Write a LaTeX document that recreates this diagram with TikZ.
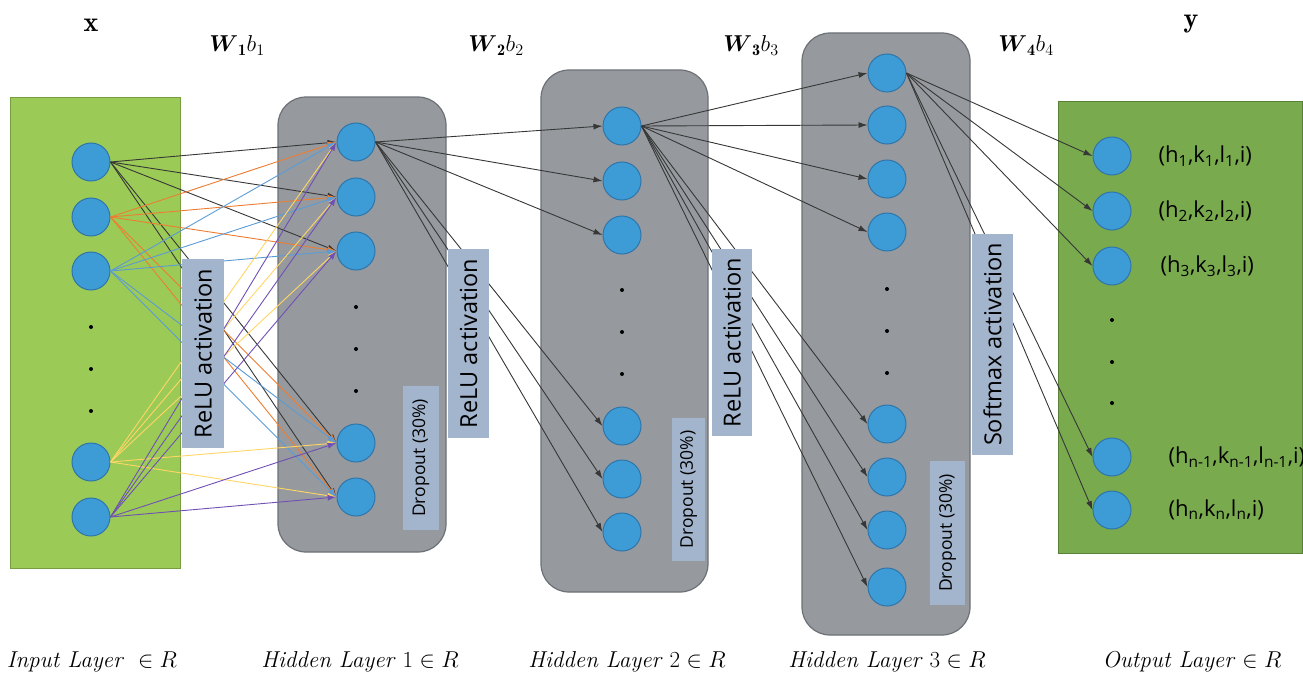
\RequirePackage{fix-cm}
\documentclass[tikz,border=0pt]{standalone}
\usepackage{amsmath}
\usepackage{fontspec}
\setsansfont{Open Sans}
\usetikzlibrary{arrows.meta,positioning}

\definecolor{nodeblue}{RGB}{61,155,214}
\definecolor{nodeline}{RGB}{47,117,170}
\definecolor{boxgray}{RGB}{150,154,158}
\definecolor{boxline}{RGB}{108,113,118}
\definecolor{ingreen}{RGB}{155,203,86}
\definecolor{inline}{RGB}{118,158,62}
\definecolor{outgreen}{RGB}{121,170,78}
\definecolor{outline}{RGB}{88,128,55}
\definecolor{actblue}{RGB}{163,181,205}
\definecolor{edgeblack}{RGB}{55,55,55}
\definecolor{edgeorange}{RGB}{237,125,49}
\definecolor{edgeblue}{RGB}{91,155,213}
\definecolor{edgeyellow}{RGB}{255,214,102}
\definecolor{edgepurple}{RGB}{112,80,180}

\begin{document}
\begin{tikzpicture}[x=1pt, y=-1pt, >={Latex[length=9pt,width=6pt]},
        neuron/.style={circle, draw=nodeline, fill=nodeblue, line width=1pt, minimum size=38pt, inner sep=0pt},
        dotnode/.style={circle, fill=black, minimum size=4pt, inner sep=0pt},
        layerbox/.style={draw=boxline, fill=boxgray, line width=1.2pt, rounded corners=28pt},
        actbox/.style={fill=actblue, rotate=90, inner sep=0pt, font=\sffamily\fontsize{23.5}{27}\selectfont},
        dropbox/.style={fill=actblue, rotate=90, inner sep=0pt, font=\sffamily\fontsize{17.5}{21}\selectfont},
        outlabel/.style={inner sep=0pt, anchor=west, font=\sffamily\fontsize{22}{26}\selectfont},
        layername/.style={font=\fontsize{23}{28}\selectfont},
        weight/.style={anchor=base, font=\fontsize{23}{28}\selectfont},
        link/.style={line width=0.9pt}]
        \useasboundingbox (0,0) rectangle (1303,677);

        \node[draw=inline, fill=ingreen, line width=1pt, minimum width=170, minimum height=471] (inbox) at (95,332.5) {};
        \node[layerbox, minimum width=168, minimum height=455] (hid1) at (362,324.5) {};
        \node[layerbox, minimum width=167, minimum height=522] (hid2) at (624.5,331) {};
        \node[layerbox, minimum width=168, minimum height=602] (hid3) at (886,334) {};
        \node[draw=outline, fill=outgreen, line width=1pt, minimum width=244, minimum height=452] (outbox) at (1180,327) {};

        \foreach \n/\y in {1/162,2/217,3/271,4/462,5/517}
            \node[neuron] (i\n) at (91,\y) {};
        \foreach \n/\y in {1/142,2/197,3/251,4/443,5/497}
            \node[neuron] (a\n) at (356,\y) {};
        \foreach \n/\y in {1/126,2/181,3/235,4/426,5/479,6/532}
            \node[neuron] (b\n) at (622,\y) {};
        \foreach \n/\y in {1/73,2/125,3/179,4/232,5/424,6/477,7/530,8/587}
            \node[neuron] (c\n) at (887,\y) {};
        \foreach \n/\y in {1/156,2/211,3/266,4/457,5/510}
            \node[neuron] (o\n) at (1112,\y) {};

        \foreach \n/\y in {1/327,2/369,3/411}
            \node[dotnode] (idot\n) at (91,\y) {};
        \foreach \n/\y in {1/307,2/349,3/391}
            \node[dotnode] (adot\n) at (356,\y) {};
        \foreach \n/\y in {1/290,2/332,3/374}
            \node[dotnode] (bdot\n) at (622,\y) {};
        \foreach \n/\y in {1/289,2/331,3/373}
            \node[dotnode] (cdot\n) at (887,\y) {};
        \foreach \n/\y in {1/320,2/362,3/403}
            \node[dotnode] (odot\n) at (1112,\y) {};

        \foreach \s/\c in {1/edgeblack,2/edgeorange,3/edgeblue,4/edgeyellow,5/edgepurple}
            \foreach \t in {1,...,5}
                \draw[->, link, \c] (i\s.east) -- (a\t.west);
        \foreach \t in {1,...,6}
            \draw[->, link, edgeblack] (a1.east) -- (b\t.west);
        \foreach \t in {1,...,8}
            \draw[->, link, edgeblack] (b1.east) -- (c\t.west);
        \foreach \t in {1,...,5}
            \draw[->, link, edgeblack] (c1.east) -- (o\t.west);

        \node[actbox, minimum width=189, minimum height=42] (relu1) at (203,353.5) {ReLU activation};
        \node[actbox, minimum width=189, minimum height=41] (relu2) at (468.5,343.5) {ReLU activation};
        \node[actbox, minimum width=187, minimum height=40] (relu3) at (732,342.5) {ReLU activation};
        \node[actbox, minimum width=221, minimum height=41] (soft) at (992.5,344.5) {Softmax activation};
        \node[dropbox, minimum width=144, minimum height=36] (drop1) at (421,458) {Dropout (30\%)};
        \node[dropbox, minimum width=143, minimum height=33] (drop2) at (688.5,489.5) {Dropout (30\%)};
        \node[dropbox, minimum width=144, minimum height=35] (drop3) at (947.5,533) {Dropout (30\%)};

        \node[outlabel, right=27pt of o1] (y1) {(h\textsubscript{1},k\textsubscript{1},l\textsubscript{1},i)};
        \node[outlabel, right=27pt of o2] (y2) {(h\textsubscript{2},k\textsubscript{2},l\textsubscript{2},i)};
        \node[outlabel, right=29pt of o3] (y3) {(h\textsubscript{3},k\textsubscript{3},l\textsubscript{3},i)};
        \node[outlabel, right=37pt of o4] (y4) {(h\textsubscript{n-1},k\textsubscript{n-1},l\textsubscript{n-1},i)};
        \node[outlabel, right=37pt of o5] (y5) {(h\textsubscript{n},k\textsubscript{n},l\textsubscript{n},i)};

        \node[anchor=base, font=\fontsize{28}{32}\selectfont] (xlab) at (91,32) {$\mathbf{x}$};
        \node[anchor=base, font=\fontsize{28}{32}\selectfont] (ylab) at (1191,27.5) {$\mathbf{y}$};
        \node[weight] (w1) at (237,52) {$\boldsymbol{W}_{\mathbf{1}}b_1$};
        \node[weight] (w2) at (496,52) {$\boldsymbol{W}_{\mathbf{2}}b_2$};
        \node[weight] (w3) at (751,52) {$\boldsymbol{W}_{\mathbf{3}}b_3$};
        \node[weight] (w4) at (1026,52) {$\boldsymbol{W}_{\mathbf{4}}b_4$};

        \node[layername] (inname) at (92,662) {\textit{Input Layer}\ \ $\in R$};
        \node[layername] (h1name) at (360,662) {\textit{Hidden Layer} $1 \in R$};
        \node[layername] (h2name) at (627,662) {\textit{Hidden Layer} $2 \in R$};
        \node[layername] (h3name) at (887,662) {\textit{Hidden Layer} $3 \in R$};
        \node[layername] (outname) at (1192,662) {\textit{Output Layer} $\in R$};
\end{tikzpicture}
\end{document}
